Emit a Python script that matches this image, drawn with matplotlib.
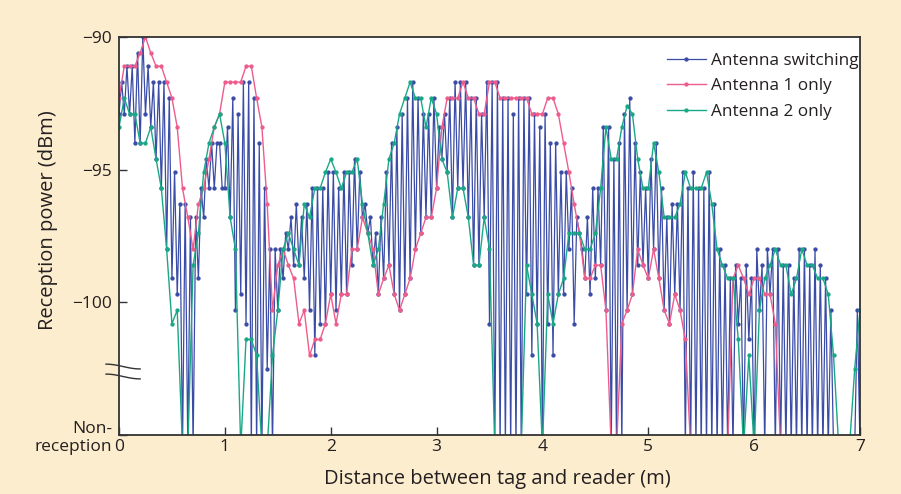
import numpy as np
import matplotlib
matplotlib.use("Agg")
import matplotlib.pyplot as plt

NR = -105.5  # non-reception: drawn just below the baseline so it sits on the axis

# Antenna 1 only, one reading every 0.05 m (dBm)
antenna1 = [
    -92.3, -91.1, -91.1, -91.1, -90.6, -90.0, -90.6, -91.1, -91.1, -91.7,
    -92.3, -93.4, -95.7, -96.8, -98.0, -96.3, -95.7, -94.6, -93.4, -92.9,
    -91.7, -91.7, -91.7, -91.7, -91.1, -91.1, -92.3, -93.4, -96.3, -100.3,
    -98.6, -98.0, -98.6, -99.1, -100.8, -100.3, -102.0, -101.4, -101.4, -100.8,
    -99.7, -100.8, -99.7, -99.7, -98.0, -98.0, -96.8, -97.4, -98.0, -99.7,
    -99.1, -98.6, -99.7, -100.3, -99.7, -99.1, -98.0, -97.4, -96.8, -96.8,
    -95.7, -93.4, -92.3, -92.3, -92.3, -91.7, -92.3, -92.3, -92.9, -92.9,
    -91.7, -91.7, -92.3, -92.3, -92.3, -92.3, -92.3, -92.3, -92.9, -92.9,
    -92.9, -92.3, -92.3, -92.9, -94.0, -95.1, -96.3, -97.4, -99.1, -99.1,
    -98.6, -98.6, -100.3, NR, NR, -100.8, -100.3, -99.7, -98.0, -98.6,
    -99.1, -98.0, -99.1, -100.3, -100.8, -99.7, -100.3, -101.4, NR, NR,
    NR, NR, NR, NR, NR, NR, -99.1, -98.6, -99.1, -99.7,
    -99.1, -99.1, -99.7, -99.7, -100.8, NR, NR, NR, NR, NR,
    NR, NR, NR, NR, NR, NR, NR, NR, NR, NR, NR,
]

# Antenna 2 only, one reading every 0.05 m (dBm)
antenna2 = [
    -93.4, -92.3, -92.9, -92.9, -94.0, -94.0, -93.4, -94.6, -95.7, -98.0,
    -100.8, -100.3, NR, NR, -98.6, -97.4, -95.1, -94.0, -93.4, -92.9,
    -94.0, -96.8, -98.0, NR, -101.4, -101.4, -102.0, NR, NR, -102.0,
    -100.3, -98.0, -97.4, -98.0, -98.6, -96.3, -96.8, -95.7, -95.7, -95.1,
    -94.6, -95.1, -95.7, -95.1, -95.1, -94.6, -96.3, -97.4, -98.6, -98.0,
    -96.3, -94.6, -94.0, -92.9, -92.3, -91.7, -92.3, -92.3, -93.4, -92.3,
    -92.9, -94.6, -95.1, -96.8, -95.7, -95.7, -96.8, -98.6, -98.6, -96.8,
    -98.0, NR, NR, NR, NR, NR, NR, -98.6, -99.7, -100.8,
    NR, -99.7, -100.8, -99.7, -99.1, -97.4, -97.4, -97.4, -98.0, -98.0,
    -97.4, -95.7, -93.4, -94.6, -94.6, -93.4, -92.6, -92.9, -94.6, -95.7,
    -95.7, -94.0, -95.1, -96.8, -96.8, -96.8, -96.3, -95.1, -95.7, -95.7,
    -95.7, -95.1, -96.3, -98.0, -98.6, -99.1, -99.1, -101.4, NR, -102.0,
    NR, -100.3, -99.1, -98.6, -98.0, -98.6, -98.6, -99.7, -99.1, -98.0,
    -98.6, -98.6, -99.1, -99.1, -99.7, -102.0, NR, NR, NR, -102.5, -100.3,
]

# Antenna switching, one reading every 0.025 m (dBm)
switching = [
    -92.9, -91.7, -92.9, -91.1, -92.9, -91.1, -94.0, -90.6, -94.0, -90.0,
    -92.9, -91.1, -93.4, -91.7, -94.6, -91.7, -95.7, -91.7, -98.0, -92.3,
    -99.1, -95.1, -99.7, -96.3, NR, -96.3, NR, -96.8, NR, -96.8,
    -99.1, -95.7, -96.8, -94.6, -95.7, -94.0, -95.7, -94.0, -94.0, -95.7,
    -95.7, -93.4, -96.8, -92.3, -100.3, -92.9, -99.7, -91.7, -100.8, -91.7,
    NR, -92.3, NR, -94.0, NR, -95.7, -102.5, -98.0, NR, -98.0,
    -100.3, -98.0, -99.1, -97.4, -98.0, -96.8, -98.6, -96.3, -98.6, -96.8,
    -99.1, -96.3, -100.3, -95.7, -102.0, -95.7, -100.8, -95.7, -100.8, -95.1,
    -99.7, -95.1, -100.3, -95.7, -99.7, -95.1, -99.7, -95.1, -98.6, -94.6,
    -98.0, -95.1, -96.8, -96.3, -97.4, -96.8, -98.6, -97.4, -99.7, -96.8,
    -99.1, -95.1, -98.6, -94.0, -99.7, -93.4, -100.3, -92.9, -99.7, -92.3,
    -99.1, -91.7, -98.0, -92.3, -97.4, -92.9, -96.8, -92.9, -96.8, -92.3,
    -95.7, -93.4, -94.6, -92.9, -95.1, -92.3, -96.8, -91.7, -95.7, -91.7,
    -95.7, -91.7, -96.8, -92.3, -98.6, -92.3, -98.6, -92.9, -96.8, -91.7,
    -100.8, -91.7, NR, -91.7, NR, -92.3, NR, -92.3, NR, -92.9,
    NR, -92.3, NR, -92.3, -99.7, -92.3, -102.0, -92.9, -100.8, -93.4,
    NR, -92.9, -100.8, -94.0, -102.0, -94.0, -99.7, -95.1, -99.7, -95.1,
    -98.0, -95.7, -100.8, -96.8, -97.4, -98.0, -99.1, -96.8, -99.7, -95.7,
    -99.1, -95.7, -98.6, -93.4, -100.3, -93.4, NR, -94.6, NR, -94.0,
    NR, -92.9, -100.3, -92.3, -99.7, -94.0, -98.6, -95.1, -98.6, -95.7,
    -99.1, -94.6, -98.0, -94.0, -99.1, -95.7, -100.3, -96.8, -100.8, -96.3,
    -99.7, -96.3, -100.3, -95.1, NR, -95.7, NR, -95.1, NR, -95.7,
    NR, -95.7, NR, -95.1, NR, -96.3, NR, -98.0, NR, -98.6,
    NR, -99.1, NR, -98.6, -100.8, -99.1, NR, -98.6, -101.4, -99.1,
    NR, -98.0, -100.3, -98.6, NR, -98.0, -99.7, -98.0, NR, -98.0,
    NR, -98.6, NR, -98.6, NR, -99.1, NR, -98.0, NR, -98.0,
    NR, -98.6, NR, -98.0, NR, -98.6, NR, -99.1, NR, -100.3,
    NR, NR, NR, NR, NR, NR, NR, NR, NR, -100.3, NR,
]

step_single = 0.05
step_switch = 0.025
x_single = np.arange(len(antenna1)) * step_single
x_switch = np.arange(len(switching)) * step_switch

ytick_vals = [-105, -100, -95, -90]
ytick_labels = ["Non-\nreception", "\u2212100", "\u221295", "\u221290"]
xtick_vals = [0, 1, 2, 3, 4, 5, 6, 7]

c_switch = "#3A4CA6"
c_ant1 = "#EE5C8C"
c_ant2 = "#19A886"
text_col = "#231F20"

plt.rcParams['font.family'] = ['Open Sans', 'DejaVu Sans']

fig = plt.figure(figsize=(9.01, 4.94), dpi=100, facecolor="#FDEDCF")
ax = fig.add_axes([119 / 901, 59 / 494, 741 / 901, 398 / 494])

ax.plot(x_switch, switching, color=c_switch, lw=0.9, marker="o", ms=2.1,
        zorder=2, label="Antenna switching")
ax.plot(x_single, antenna1, color=c_ant1, lw=1.0, marker="o", ms=2.1,
        zorder=3, label="Antenna 1 only")
ax.plot(x_single, antenna2, color=c_ant2, lw=1.0, marker="o", ms=2.1,
        zorder=4, label="Antenna 2 only")

ax.set_xlim(0, 7)
ax.set_ylim(-105, -90)
ax.set_xticks(xtick_vals)
ax.set_xticklabels([str(v) for v in xtick_vals])
ax.set_yticks(ytick_vals)
ax.set_yticklabels(ytick_labels)
ax.tick_params(direction="in", length=6, width=1, colors="#333333",
               labelcolor=text_col, labelsize=12.5)
ax.tick_params(axis="x", pad=3)
ax.tick_params(axis="y", pad=5)
for s in ax.spines.values():
    s.set_color("#333333")
    s.set_linewidth(1.3)
    s.set_zorder(5)

ax.set_xlabel("Distance between tag and reader (m)", fontsize=14.5,
              color=text_col, labelpad=9)
ax.xaxis.set_label_coords(0.511, -0.085)
ax.set_ylabel("Reception power (dBm)", fontsize=14.5, color=text_col)
ax.yaxis.set_label_coords(-0.082, 0.54)

# axis break marks on the y axis
t = np.linspace(0, 1, 30)
for yc in (0.172, 0.147):
    ax.plot(-0.0175 + t * 0.046, yc + 0.006 * np.cos(np.pi * t),
            transform=ax.transAxes, clip_on=False, color="#333333", lw=1.0)

ax.legend(loc="upper left", bbox_to_anchor=(0.739, 0.96), frameon=False,
          fontsize=12.3, handlelength=2.3, handletextpad=0.3,
          labelspacing=0.55, borderpad=0, borderaxespad=0,
          labelcolor=text_col)

fig.savefig("out.png", dpi=100, facecolor=fig.get_facecolor())
